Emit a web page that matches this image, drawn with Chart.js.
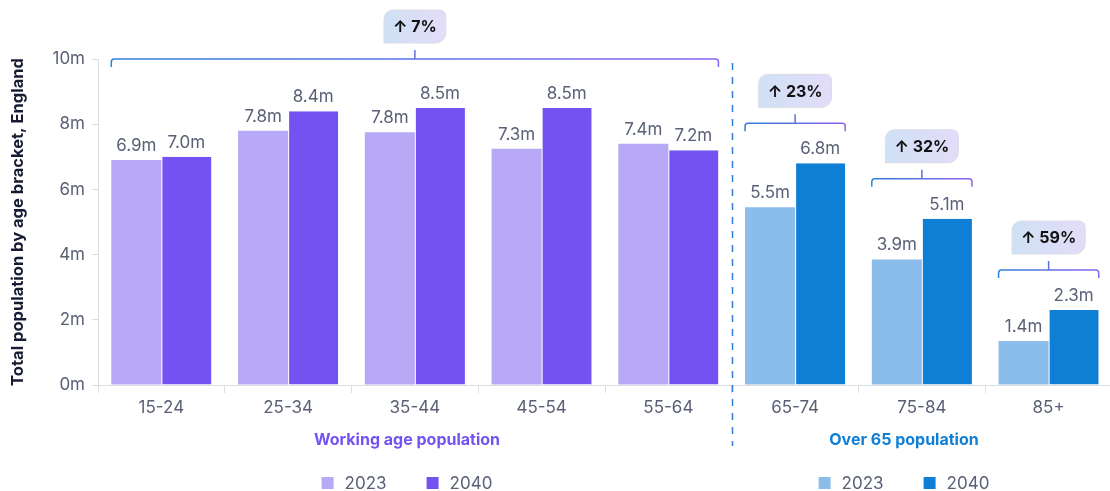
<!DOCTYPE html>
<html>
<head>
<meta charset="utf-8">
<script src="https://cdn.jsdelivr.net/npm/chart.js@4.4.1/dist/chart.umd.min.js"></script>
<style>
html, body { margin: 0; padding: 0; background: #fff; overflow: hidden; }
#wrap { position: relative; width: 1112px; height: 491px; }
</style>
</head>
<body>
<div id="wrap"><canvas id="popChart"></canvas></div>
<script>
// Data
const ageBrackets = ['15-24', '25-34', '35-44', '45-54', '55-64', '65-74', '75-84', '85+'];
const pop2023 = [6.9, 7.8, 7.75, 7.25, 7.4, 5.45, 3.85, 1.35];
const pop2040 = [7.0, 8.4, 8.5, 8.5, 7.2, 6.8, 5.1, 2.3];
const yTickValues = [0, 2, 4, 6, 8, 10];
const seriesYears = ['2023', '2040'];

// groups under the axis
const groupNames = ['Working age population', 'Over 65 population'];
const groupFirst = [0, 5];
const groupLast = [4, 7];

// change badges
const changeFrom = [0, 5, 6, 7];
const changeTo = [4, 5, 6, 7];
const changeText = ['7%', '23%', '32%', '59%'];

// Colours
const working = { light: '#b8a9f7', dark: '#7352f2', title: '#7352f2' };
const older = { light: '#8bbdea', dark: '#0e7fd4', title: '#0e7fd4' };
const greyText = '#5a6177';
const axisGrey = '#dddddd';
const FONT = 'Inter, "Noto Sans", sans-serif';

const isOlder = i => i >= groupFirst[1];
const lightColors = ageBrackets.map((_, i) => isOlder(i) ? older.light : working.light);
const darkColors = ageBrackets.map((_, i) => isOlder(i) ? older.dark : working.dark);

// Labels, brackets, badges, divider, group titles and legends
const overlay = {
    id: 'overlay',
    afterDatasetsDraw(chart) {
        const { ctx, chartArea, scales } = chart;
        const x = scales.x;
        const m0 = chart.getDatasetMeta(0), m1 = chart.getDatasetMeta(1);

        ctx.save();

        // value labels
        ctx.font = '17px ' + FONT;
        ctx.fillStyle = greyText;
        ctx.textAlign = 'center';
        ctx.textBaseline = 'alphabetic';
        [m0, m1].forEach((meta, d) => {
            const vals = d === 0 ? pop2023 : pop2040;
            meta.data.forEach((bar, i) => {
                ctx.fillText(vals[i].toFixed(1) + 'm', bar.x, bar.y - 9);
            });
        });

        // brackets + badges
        changeText.forEach((txt, g) => {
            const a = changeFrom[g], b = changeTo[g];
            const left = m0.data[a].x - m0.data[a].width / 2;
            const right = m1.data[b].x + m1.data[b].width / 2;
            let topBar = Infinity;
            for (let i = a; i <= b; i++) topBar = Math.min(topBar, m0.data[i].y, m1.data[i].y);
            // the wide working-age bracket sits on the top of the axis
            const by = b > a ? chartArea.top : Math.max(chartArea.top, topBar - 40);
            const cx = (left + right) / 2;

            const grad = ctx.createLinearGradient(left, 0, right, 0);
            grad.addColorStop(0, '#2f80d8');
            grad.addColorStop(1, '#8a63f2');
            ctx.strokeStyle = grad;
            ctx.lineWidth = 1.5;
            ctx.beginPath();
            ctx.moveTo(left, by + 8);
            ctx.arcTo(left, by, left + 4, by, 3);
            ctx.lineTo(right - 4, by);
            ctx.arcTo(right, by, right, by + 8, 3);
            ctx.lineTo(right, by + 8);
            ctx.moveTo(cx, by);
            ctx.lineTo(cx, by - 9);
            ctx.stroke();

            const label = '\u2191 ' + txt;
            ctx.font = 'bold 16px ' + FONT;
            const w = ctx.measureText(label).width + 18;
            const h = 33;
            const bx = cx - w / 2, byTop = by - 16 - h;
            const bg = ctx.createLinearGradient(bx, 0, bx + w, 0);
            bg.addColorStop(0, '#cfe1f5');
            bg.addColorStop(1, '#e3dcf9');
            ctx.fillStyle = bg;
            ctx.strokeStyle = '#dcdce6';
            ctx.lineWidth = 1;
            ctx.beginPath();
            ctx.roundRect(bx, byTop, w, h, [9, 6, 10, 0]);
            ctx.fill();
            ctx.stroke();
            ctx.fillStyle = '#111111';
            ctx.textBaseline = 'middle';
            ctx.fillText(label, cx, byTop + h / 2 + 1);
            ctx.textBaseline = 'alphabetic';
            ctx.font = '17px ' + FONT;
        });

        // divider between groups
        const dx = Math.round((x.getPixelForValue(groupLast[0]) + x.getPixelForValue(groupFirst[1])) / 2) + 0.5;
        ctx.strokeStyle = '#2f7fd6';
        ctx.lineWidth = 1.5;
        ctx.setLineDash([7, 7]);
        ctx.beginPath();
        ctx.moveTo(dx, chartArea.top + 4);
        ctx.lineTo(dx, 446);
        ctx.stroke();
        ctx.setLineDash([]);

        // group titles and legends
        const centres = [407, 904];
        const palettes = [working, older];
        groupNames.forEach((name, g) => {
            const pal = palettes[g];
            ctx.font = 'bold 16px ' + FONT;
            ctx.fillStyle = pal.title;
            ctx.textAlign = 'center';
            ctx.textBaseline = 'middle';
            ctx.fillText(name, centres[g], 440);

            ctx.font = '17px ' + FONT;
            const sw = 12, gap = 11, itemGap = 40;
            const widths = seriesYears.map(t => ctx.measureText(t).width);
            const total = widths.reduce((s, w) => s + sw + gap + w, 0) + itemGap;
            let lx = centres[g] - total / 2;
            const ly = 483;
            ctx.textAlign = 'left';
            seriesYears.forEach((t, k) => {
                ctx.fillStyle = k === 0 ? pal.light : pal.dark;
                ctx.fillRect(lx, ly - 6, sw, sw);
                ctx.fillStyle = greyText;
                ctx.fillText(t, lx + sw + gap, ly + 1);
                lx += sw + gap + widths[k] + itemGap;
            });
        });

        ctx.restore();
    }
};

const ctx = document.getElementById('popChart').getContext('2d');
new Chart(ctx, {
    type: 'bar',
    data: {
        labels: ageBrackets,
        datasets: [{
            label: seriesYears[0],
            data: pop2023,
            backgroundColor: lightColors,
            borderWidth: 0,
            categoryPercentage: 0.79,
            barPercentage: 1.0
        }, {
            label: seriesYears[1],
            data: pop2040,
            backgroundColor: darkColors,
            borderColor: '#ffffff',
            borderWidth: { left: 1, top: 0, right: 0, bottom: 0 },
            borderSkipped: false,
            categoryPercentage: 0.79,
            barPercentage: 1.0
        }]
    },
    options: {
        responsive: true,
        maintainAspectRatio: false,
        animation: false,
        layout: { padding: { top: 59, right: 0, bottom: 0, left: 0 } },
        scales: {
            x: {
                afterFit: s => { s.height = 106; },
                grid: {
                    offset: true,
                    drawOnChartArea: false,
                    tickLength: 8,
                    color: axisGrey
                },
                border: { color: axisGrey },
                ticks: {
                    color: greyText,
                    font: { family: FONT, size: 17 },
                    padding: 5
                }
            },
            y: {
                min: 0,
                max: 10,
                afterFit: s => { s.width = 98; },
                afterBuildTicks: s => { s.ticks = yTickValues.map(v => ({ value: v })); },
                grid: {
                    drawOnChartArea: false,
                    tickLength: 6,
                    color: axisGrey
                },
                border: { color: axisGrey },
                ticks: {
                    color: greyText,
                    font: { family: FONT, size: 17 },
                    padding: 7,
                    callback: v => v + 'm'
                },
                title: {
                    display: true,
                    text: 'Total population by age bracket, England',
                    color: '#161a33',
                    font: { family: FONT, size: 16.5, weight: 'bold' },
                    padding: { top: 8, bottom: 0 }
                }
            }
        },
        plugins: {
            legend: { display: false },
            tooltip: { enabled: false }
        }
    },
    plugins: [overlay]
});
</script>
</body>
</html>
